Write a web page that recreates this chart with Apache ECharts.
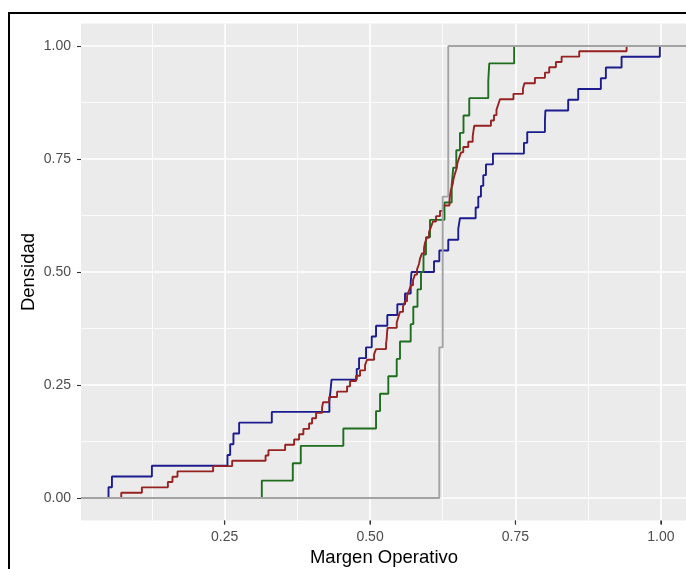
<!DOCTYPE html>
<html><head><meta charset="utf-8">
<script src="https://cdn.jsdelivr.net/npm/echarts@6/dist/echarts.min.js"></script>
<style>html,body{margin:0;padding:0;background:#fff}#c{width:686px;height:569px}</style>
</head><body><div id="c"></div>
<script>
// Observations (Margen Operativo) for each group; the ECDF is built from them
const blueValues = [0.0503,0.0562,0.1249,0.2548,0.2595,0.2651,0.2749,0.3311,0.4301,0.4321,0.4338,0.4771,0.4811,0.4931,0.5029,0.5103,0.5297,0.5469,0.5601,0.5699,0.5713,0.6100,0.6191,0.6345,0.6517,0.6546,0.6816,0.6861,0.6907,0.6947,0.6993,0.7113,0.7646,0.7703,0.8007,0.8015,0.8407,0.8579,0.8969,0.9055,0.9325,0.9983];
const redValues = [0.0722,0.1077,0.1524,0.1603,0.1689,0.2302,0.2629,0.3204,0.3253,0.3540,0.3694,0.3780,0.3854,0.3952,0.4003,0.4072,0.4175,0.4192,0.4296,0.4433,0.4605,0.4656,0.4759,0.4828,0.4914,0.4948,0.5069,0.5103,0.5275,0.5287,0.5292,0.5301,0.5459,0.5486,0.5515,0.5567,0.5601,0.5636,0.5670,0.5704,0.5739,0.5773,0.5808,0.5842,0.5859,0.5893,0.5928,0.5945,0.5979,0.6014,0.6048,0.6082,0.6134,0.6203,0.6254,0.6366,0.6375,0.6392,0.6421,0.6435,0.6460,0.6490,0.6503,0.6534,0.6564,0.6603,0.6689,0.6765,0.6778,0.6792,0.7079,0.7131,0.7174,0.7204,0.7234,0.7466,0.7629,0.7655,0.7835,0.8007,0.8081,0.8196,0.8294,0.8597,0.9411];
const greenValues = [0.3139,0.3672,0.3809,0.4541,0.5103,0.5172,0.5314,0.5459,0.5515,0.5699,0.5744,0.5816,0.5876,0.5919,0.5962,0.6031,0.6280,0.6404,0.6431,0.6483,0.6546,0.6607,0.6706,0.7033,0.7050,0.7478];
const grayValues = [0.6191,0.6249,0.6345];

const xTicks = [0.25, 0.50, 0.75, 1.00];
const xMinorTicks = [0.125, 0.375, 0.625, 0.875];
const yTicks = [0.00, 0.25, 0.50, 0.75, 1.00];
const yMinorTicks = [0.125, 0.375, 0.625, 0.875];
const xTitle = 'Margen Operativo';
const yTitle = 'Densidad';

const X_MIN = 0.003, X_MAX = 1.045, Y_MIN = -0.05, Y_MAX = 1.05;

function ecdf(vals) {
  const s = vals.slice().sort((a, b) => a - b);
  const n = s.length;
  const out = [[X_MIN, 0]];
  s.forEach((v, i) => out.push([v, (i + 1) / n]));
  out.push([X_MAX, 1]);
  return out;
}

const FONT = "'Liberation Sans', Arial, Helvetica, sans-serif";
const chart = echarts.init(document.getElementById('c'), null, {renderer: 'canvas'});

function stepSeries(name, vals, color) {
  return {
    name, type: 'line', step: 'end', symbol: 'none', data: ecdf(vals),
    xAxisIndex: 0, yAxisIndex: 0,
    lineStyle: {color, width: 1.9}, itemStyle: {color},
    emphasis: {disabled: true}, animation: false
  };
}

chart.setOption({
  backgroundColor: '#ffffff',
  animation: false,
  grid: {left: 81, top: 23.4, width: 606, height: 497.2, show: true, backgroundColor: '#EBEBEB', borderWidth: 0,
         containLabel: false, outerBoundsMode: 'none'},
  graphic: [{
    type: 'rect', shape: {x: 9, y: 13, width: 700, height: 620},
    style: {fill: 'none', stroke: '#000', lineWidth: 2}, silent: true, z: 100
  }],
  xAxis: [{
    type: 'value', min: X_MIN, max: X_MAX, position: 'bottom',
    axisLine: {show: true, onZero: false, lineStyle: {color: 'rgba(0,0,0,0)'}},
    axisTick: {show: true, customValues: xTicks, length: 4, lineStyle: {color: '#333', width: 1.1}},
    axisLabel: {customValues: xTicks, formatter: v => v.toFixed(2), color: '#4d4d4d', fontSize: 14, margin: 9.5, fontFamily: FONT},
    splitLine: {show: true, lineStyle: {color: '#ffffff', width: 1.6}},
    name: xTitle, nameLocation: 'middle', nameGap: 28, nameMoveOverlap: false,
    nameTextStyle: {fontSize: 18.5, color: '#000', fontFamily: FONT}
  }, {
    type: 'value', min: X_MIN, max: X_MAX, position: 'top',
    axisLine: {show: false, onZero: false},
    axisTick: {show: false, customValues: xMinorTicks},
    axisLabel: {show: false, customValues: xMinorTicks},
    splitLine: {show: true, lineStyle: {color: '#ffffff', width: 0.8}}
  }],
  yAxis: [{
    type: 'value', min: Y_MIN, max: Y_MAX, position: 'left',
    axisLine: {show: true, onZero: false, lineStyle: {color: 'rgba(0,0,0,0)'}},
    axisTick: {show: true, customValues: yTicks, length: 4, lineStyle: {color: '#333', width: 1.1}},
    axisLabel: {customValues: yTicks, formatter: v => v.toFixed(2), color: '#4d4d4d', fontSize: 14, margin: 10, fontFamily: FONT},
    splitLine: {show: true, lineStyle: {color: '#ffffff', width: 1.6}},
    name: yTitle, nameLocation: 'middle', nameGap: 43, nameRotate: 90, nameMoveOverlap: false,
    nameTextStyle: {fontSize: 18.5, color: '#000', fontFamily: FONT}
  }, {
    type: 'value', min: Y_MIN, max: Y_MAX, position: 'right',
    axisLine: {show: false, onZero: false},
    axisTick: {show: false, customValues: yMinorTicks},
    axisLabel: {show: false, customValues: yMinorTicks},
    splitLine: {show: true, lineStyle: {color: '#ffffff', width: 0.8}}
  }],
  series: [
    stepSeries('Azul', blueValues, '#1c1c8e'),
    stepSeries('Verde', greenValues, '#1f6e1f'),
    stepSeries('Rojo', redValues, '#962222'),
    stepSeries('Gris', grayValues, '#a3a3a3'),
    {
      // x-axis tick marks, positioned by the axis scale, drawn just below the panel
      type: 'custom', name: 'xticks', xAxisIndex: 0, yAxisIndex: 0, clip: false, silent: true,
      data: xTicks.map(v => [v, Y_MIN]), z: 20,
      renderItem: (params, api) => {
        const p = api.coord([api.value(0), api.value(1)]);
        return {type: 'line', shape: {x1: p[0], y1: p[1], x2: p[0], y2: p[1] + 4},
                style: {stroke: '#333', lineWidth: 1.1}};
      }
    }
  ]
});
</script></body></html>
